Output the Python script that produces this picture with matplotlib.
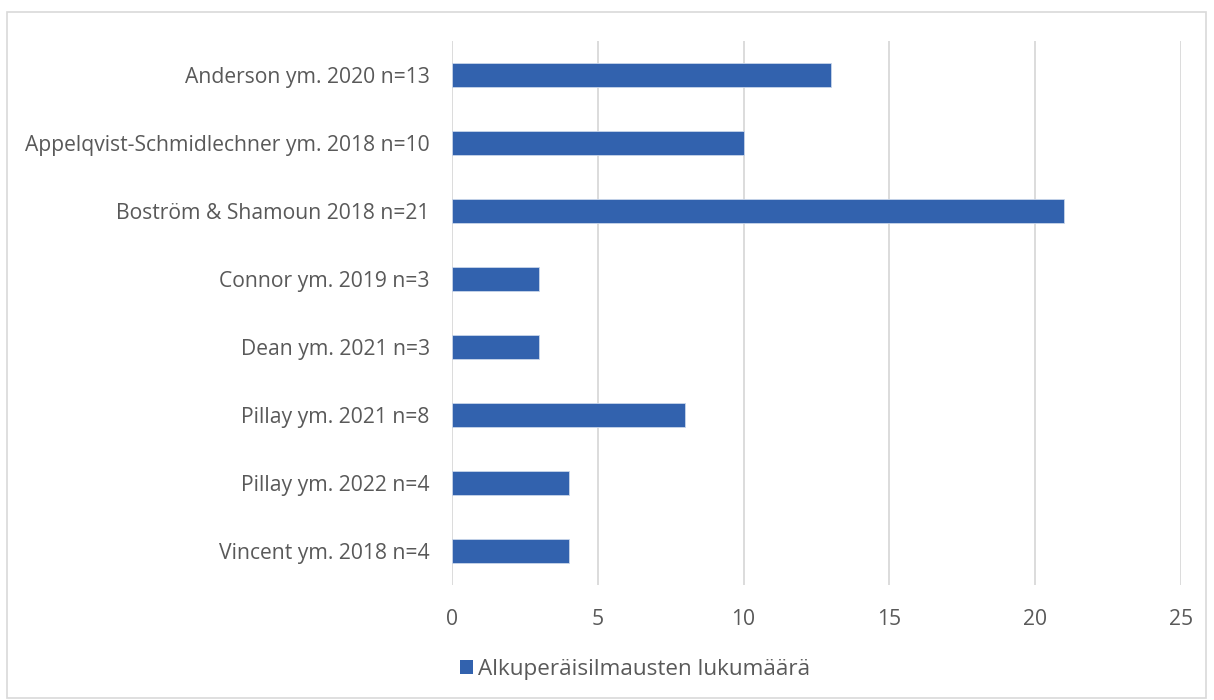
import matplotlib.pyplot as plt
from matplotlib.patches import Rectangle, Patch

# Data
studies = ["Anderson ym. 2020 n=13", "Appelqvist-Schmidlechner ym. 2018 n=10",
           "Boström & Shamoun 2018 n=21", "Connor ym. 2019 n=3",
           "Dean ym. 2021 n=3", "Pillay ym. 2021 n=8",
           "Pillay ym. 2022 n=4", "Vincent ym. 2018 n=4"]
counts = [13, 10, 21, 3, 3, 8, 4, 4]
series_name = "Alkuperäisilmausten lukumäärä"

bar_color = "#3262AE"
text_color = "#595959"
grid_color = "#D9D9D9"

plt.rcParams['font.family'] = ['Open Sans', 'DejaVu Sans']

fig = plt.figure(figsize=(12.14, 7.0), dpi=100)
ax = fig.add_axes([0.3723, 0.1643, 0.6005, 0.7771])

pos = list(range(len(studies)))
ax.barh(pos, counts, height=0.36, color=bar_color, edgecolor="#C9D6EA",
        linewidth=0.6, zorder=3)

ax.set_ylim(len(studies) - 0.5, -0.5)
ax.set_xlim(0, 25)
ax.set_xticks([0, 5, 10, 15, 20, 25])
ax.set_yticks(pos)
ax.set_yticklabels(studies)
ax.tick_params(axis='both', length=0, colors=text_color, labelsize=15.2)
ax.tick_params(axis='y', pad=16)
ax.tick_params(axis='x', pad=17)
ax.grid(axis='x', color=grid_color, linewidth=1.3, zorder=0)
for s in ax.spines.values():
    s.set_visible(False)

fig.legend(handles=[Patch(facecolor=bar_color, label=series_name)],
           loc='center', bbox_to_anchor=(0.523, 0.044), frameon=False,
           fontsize=16.2, labelcolor=text_color, handlelength=0.6,
           handleheight=0.6, handletextpad=0.2)

# outer chart border
fig.patches.append(Rectangle((7 / 1214, 2 / 700), 1199 / 1214, 686 / 700,
                             transform=fig.transFigure, fill=False,
                             edgecolor=grid_color, linewidth=1.2))

fig.savefig("out.png", dpi=100)
